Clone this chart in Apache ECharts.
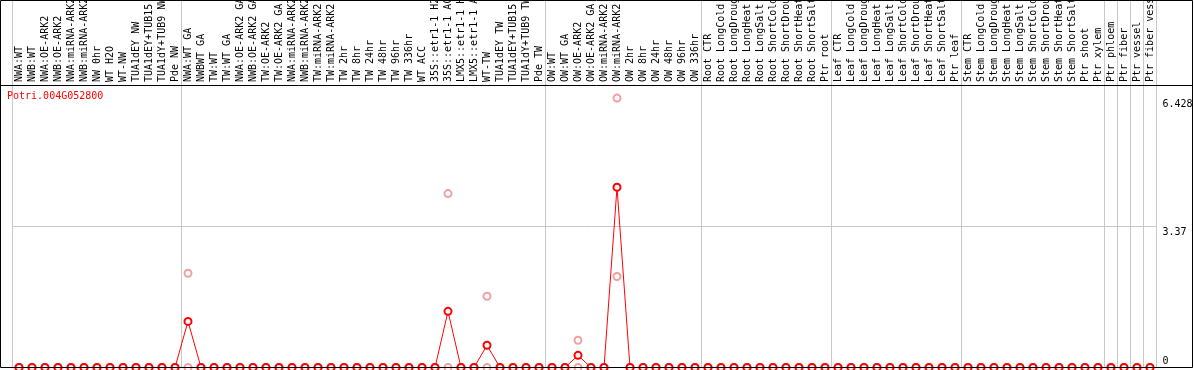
<!DOCTYPE html>
<html>
<head>
<meta charset="utf-8">
<script src="https://cdn.jsdelivr.net/npm/echarts@6/dist/echarts.min.js"></script>
<style>
  html, body { margin: 0; padding: 0; background: #fff; }
  #chart { width: 1194px; height: 370px; }
</style>
</head>
<body>
<div id="chart"></div>
<script>
let geneName = "Potri.004G052800";

let categories = [
    "NWA:WT", "NWB:WT", "NWA:OE-ARK2", "NWB:OE-ARK2", "NWA:miRNA-ARK2", "NWB:miRNA-ARK2",
    "NW 0hr", "WT H2O", "WT-NW", "TUA1dEY NW", "TUA1dEY+TUB15 NW", "TUA1dY+TUB9 NW", "Pde NW",
    "NWA:WT GA", "NWBWT GA", "TW:WT", "TW:WT GA", "NWA:OE-ARK2 GA", "NWB:OE-ARK2 GA",
    "TW:OE-ARK2", "TW:OE-ARK2 GA", "NWA:miRNA-ARK2", "NWB:miRNA-ARK2", "TW:miRNA-ARK2",
    "TW:miRNA-ARK2", "TW 2hr", "TW 8hr", "TW 24hr", "TW 48hr", "TW 96hr", "TW 336hr",
    "WT ACC", "35S::etr1-1 H2O", "35S::etr1-1 ACC", "LMX5::etr1-1 H2O", "LMX5::etr1-1 ACC",
    "WT-TW", "TUA1dEY TW", "TUA1dEY+TUB15 TW", "TUA1dY+TUB9 TW", "Pde TW",
    "OW:WT", "OW:WT GA", "OW:OE-ARK2", "OW:OE-ARK2 GA", "OW:miRNA-ARK2", "OW:miRNA-ARK2",
    "OW 2hr", "OW 8hr", "OW 24hr", "OW 48hr", "OW 96hr", "OW 336hr",
    "Root CTR", "Root LongCold", "Root LongDrought", "Root LongHeat", "Root LongSalt",
    "Root ShortCold", "Root ShortDrought", "Root ShortHeat", "Root ShortSalt", "Ptr root",
    "Leaf CTR", "Leaf LongCold", "Leaf LongDrought", "Leaf LongHeat", "Leaf LongSalt",
    "Leaf ShortCold", "Leaf ShortDrought", "Leaf ShortHeat", "Leaf ShortSalt", "Ptr leaf",
    "Stem CTR", "Stem LongCold", "Stem LongDrought", "Stem LongHeat", "Stem LongSalt",
    "Stem ShortCold", "Stem ShortDrought", "Stem ShortHeat", "Stem ShortSalt", "Ptr shoot",
    "Ptr xylem", "Ptr phloem", "Ptr fiber", "Ptr vessel", "Ptr fiber vessel"
];

// first category of each sample group (gray separators)
let groupStarts = [0, 13, 41, 53, 63, 73, 84, 85, 86, 87];

// mean expression
let meanValues = [
    0, 0, 0, 0, 0, 0, 0, 0, 0, 0, 0, 0, 0,
    1.10, 0, 0, 0, 0, 0, 0, 0, 0, 0, 0, 0, 0, 0, 0, 0, 0, 0,
    0, 0, 1.34, 0, 0, 0.53, 0, 0, 0, 0,
    0, 0, 0.29, 0, 0, 4.30, 0, 0, 0, 0, 0, 0,
    0, 0, 0, 0, 0, 0, 0, 0, 0, 0,
    0, 0, 0, 0, 0, 0, 0, 0, 0, 0,
    0, 0, 0, 0, 0, 0, 0, 0, 0, 0,
    0, 0, 0, 0, 0
];

// replicates
let repValuesA = [
    0, 0, 0, 0, 0, 0, 0, 0, 0, 0, 0, 0, 0,
    2.25, 0, 0, 0, 0, 0, 0, 0, 0, 0, 0, 0, 0, 0, 0, 0, 0, 0,
    0, 0, 4.15, 0, 0, 1.70, 0, 0, 0, 0,
    0, 0, 0.65, 0, 0, 6.428, 0, 0, 0, 0, 0, 0,
    0, 0, 0, 0, 0, 0, 0, 0, 0, 0,
    0, 0, 0, 0, 0, 0, 0, 0, 0, 0,
    0, 0, 0, 0, 0, 0, 0, 0, 0, 0,
    0, 0, 0, 0, 0
];
let repValuesB = [
    0, 0, 0, 0, 0, 0, 0, 0, 0, 0, 0, 0, 0,
    0, 0, 0, 0, 0, 0, 0, 0, 0, 0, 0, 0, 0, 0, 0, 0, 0, 0,
    0, 0, 0, 0, 0, 0, 0, 0, 0, 0,
    0, 0, 0, 0, 0, 2.17, 0, 0, 0, 0, 0, 0,
    0, 0, 0, 0, 0, 0, 0, 0, 0, 0,
    0, 0, 0, 0, 0, 0, 0, 0, 0, 0,
    0, 0, 0, 0, 0, 0, 0, 0, 0, 0,
    0, 0, 0, 0, 0
];

let yMax = 6.74;
let yTickLabels = [0, 3.37, 6.428];

let mono = "DejaVu Sans Mono";
let gridColor = "#c8c8c8";

function isGroupStart(index) {
    return groupStarts.indexOf(index) >= 0;
}

let chart = echarts.init(document.getElementById("chart"));
chart.setOption({
    animation: false,
    title: {
        text: geneName,
        left: 7,
        top: 91,
        padding: 0,
        textStyle: {
            color: "#ff0000",
            fontFamily: mono,
            fontSize: 10,
            fontWeight: "normal",
        },
    },
    grid: [
        { left: 12.5, right: 37.5, top: 85, bottom: 2.5, outerBoundsMode: "none" },
        { left: 12.5, right: 37.5, top: 0, height: 85, outerBoundsMode: "none" },
    ],
    xAxis: [
        {
            type: "category",
            gridIndex: 0,
            data: categories,
            position: "top",
            axisLine: { show: false },
            axisTick: { show: false },
            axisLabel: { show: false },
            splitLine: {
                show: true,
                interval: isGroupStart,
                lineStyle: { color: gridColor, width: 1 },
            },
        },
        {
            type: "category",
            gridIndex: 1,
            data: categories,
            position: "bottom",
            axisLine: { show: false },
            axisTick: { show: false },
            axisLabel: {
                inside: true,
                rotate: 90,
                interval: 0,
                margin: 3,
                color: "#000",
                fontFamily: mono,
                fontSize: 10,
            },
            splitLine: {
                show: true,
                interval: isGroupStart,
                lineStyle: { color: gridColor, width: 1 },
            },
        },
    ],
    yAxis: [
        {
            type: "value",
            gridIndex: 0,
            position: "right",
            min: 0,
            max: yMax,
            interval: 3.37,
            axisLine: { show: false },
            axisTick: { show: false },
            splitLine: { show: true, lineStyle: { color: gridColor, width: 1 } },
            axisLabel: {
                customValues: yTickLabels,
                margin: 6,
                align: "left",
                verticalAlign: "middle",
                color: "#000",
                fontFamily: mono,
                fontSize: 10,
                formatter: function (value) {
                    return value === 0 ? "{lo|" + value + "}" : "{hi|" + value + "}";
                },
                rich: {
                    hi: { fontFamily: mono, fontSize: 10, lineHeight: 12, padding: [13, 0, 0, 0] },
                    lo: { fontFamily: mono, fontSize: 10, lineHeight: 12, padding: [0, 0, 13, 0] },
                },
            },
        },
        {
            type: "value",
            gridIndex: 1,
            show: false,
        },
    ],
    series: [
        {
            name: "rep A",
            type: "line",
            xAxisIndex: 0,
            yAxisIndex: 0,
            data: repValuesA,
            symbol: "emptyCircle",
            symbolSize: 7,
            showAllSymbol: true,
            clip: false,
            lineStyle: { width: 0, opacity: 0 },
            itemStyle: { color: "#f0a0a0", borderWidth: 1 },
            z: 2,
        },
        {
            name: "rep B",
            type: "line",
            xAxisIndex: 0,
            yAxisIndex: 0,
            data: repValuesB,
            symbol: "emptyCircle",
            symbolSize: 7,
            showAllSymbol: true,
            clip: false,
            lineStyle: { width: 0, opacity: 0 },
            itemStyle: { color: "#f0a0a0", borderWidth: 1 },
            z: 2,
        },
        {
            name: "mean",
            type: "line",
            xAxisIndex: 0,
            yAxisIndex: 0,
            data: meanValues,
            symbol: "emptyCircle",
            symbolSize: 7,
            showAllSymbol: true,
            clip: false,
            lineStyle: { color: "#ff0000", width: 1 },
            itemStyle: { color: "#ff0000", borderWidth: 1 },
            z: 3,
        },
    ],
    graphic: [
        {
            type: "rect",
            shape: { x: 0.5, y: 0.5, width: 1192, height: 367 },
            style: { fill: null, stroke: "#000", lineWidth: 1 },
            z: 100,
        },
        {
            type: "line",
            shape: { x1: 0, y1: 85.5, x2: 1193, y2: 85.5 },
            style: { stroke: "#000", lineWidth: 1 },
            z: 100,
        },
    ],
});
window.addEventListener("resize", function () {
    chart.resize();
});
</script>
</body>
</html>
